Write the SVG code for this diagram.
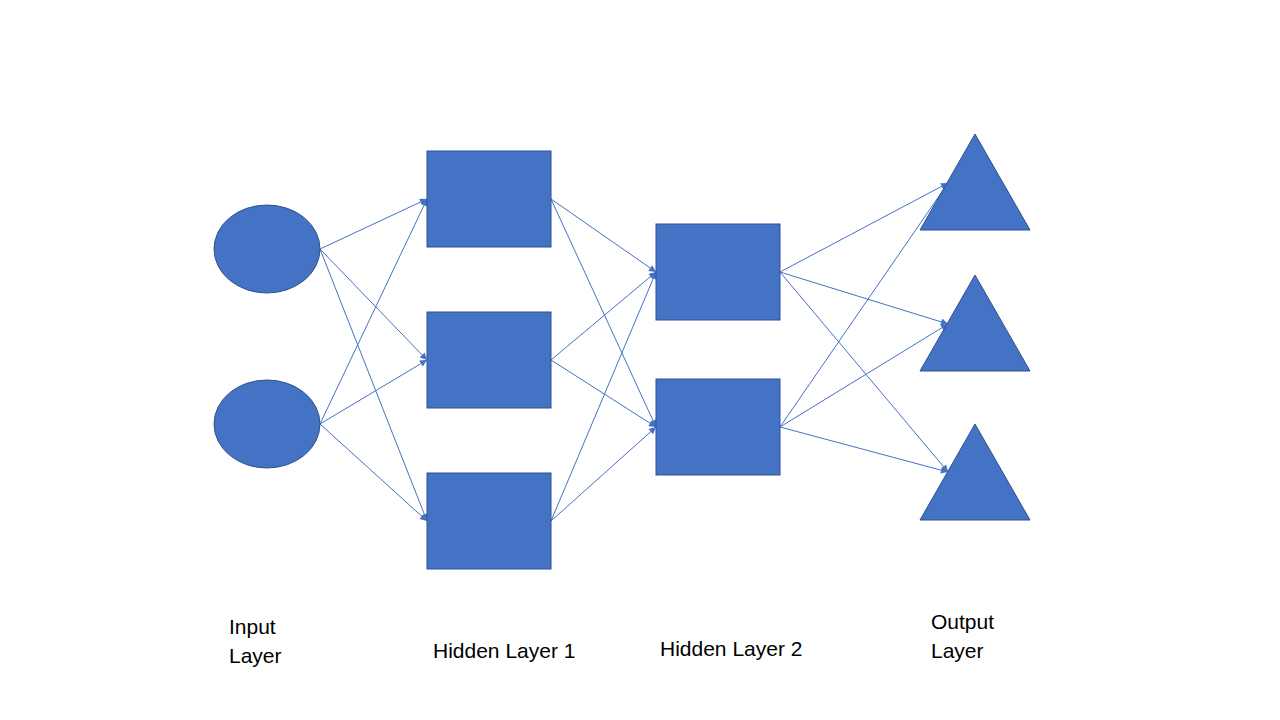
<svg xmlns="http://www.w3.org/2000/svg" width="1280" height="720" viewBox="0 0 1280 720">
<style>
.node{fill:#4472C4;stroke:#2F528F;stroke-width:1}
.edge{stroke:#4472C4;stroke-width:1;fill:none;marker-end:url(#ah)}
.lbl{font-family:"Liberation Sans",Arial,sans-serif;font-size:21px;fill:#000}
</style>
<defs>
<marker id="ah" viewBox="0 0 10 10" refX="10" refY="5" markerWidth="9" markerHeight="7" markerUnits="userSpaceOnUse" orient="auto">
<path d="M0,0 L10,5 L0,10 Z" fill="#4472C4"/>
</marker>
</defs>
<rect width="1280" height="720" fill="#fff"/>
<g id="connectors">
<line class="edge" x1="320" y1="249" x2="427" y2="199"/>
<line class="edge" x1="320" y1="249" x2="427" y2="360"/>
<line class="edge" x1="320" y1="249" x2="427" y2="521"/>
<line class="edge" x1="320" y1="424" x2="427" y2="199"/>
<line class="edge" x1="320" y1="424" x2="427" y2="360"/>
<line class="edge" x1="320" y1="424" x2="427" y2="521"/>
<line class="edge" x1="551" y1="199" x2="656" y2="272"/>
<line class="edge" x1="551" y1="199" x2="656" y2="427"/>
<line class="edge" x1="551" y1="360" x2="656" y2="272"/>
<line class="edge" x1="551" y1="360" x2="656" y2="427"/>
<line class="edge" x1="551" y1="521" x2="656" y2="272"/>
<line class="edge" x1="551" y1="521" x2="656" y2="427"/>
<line class="edge" x1="780" y1="272" x2="948" y2="183"/>
<line class="edge" x1="780" y1="272" x2="948" y2="324"/>
<line class="edge" x1="780" y1="272" x2="948" y2="472"/>
<line class="edge" x1="780" y1="427" x2="948" y2="183"/>
<line class="edge" x1="780" y1="427" x2="948" y2="324"/>
<line class="edge" x1="780" y1="427" x2="948" y2="472"/>
</g>
<g id="in1"><ellipse class="node" cx="267" cy="249" rx="53" ry="44"/></g>
<g id="in2"><ellipse class="node" cx="267" cy="424" rx="53" ry="44"/></g>
<g id="h1a"><rect class="node" x="427" y="151" width="124" height="96"/></g>
<g id="h1b"><rect class="node" x="427" y="312" width="124" height="96"/></g>
<g id="h1c"><rect class="node" x="427" y="473" width="124" height="96"/></g>
<g id="h2a"><rect class="node" x="656" y="224" width="124" height="96"/></g>
<g id="h2b"><rect class="node" x="656" y="379" width="124" height="96"/></g>
<g id="out1"><polygon class="node" points="975,134 1030,230 920,230"/></g>
<g id="out2"><polygon class="node" points="975,275 1030,371 920,371"/></g>
<g id="out3"><polygon class="node" points="975,424 1030,520 920,520"/></g>
<g id="labels">
<text class="lbl" x="229" y="634">Input</text>
<text class="lbl" x="229" y="663">Layer</text>
<text class="lbl" x="433" y="658">Hidden Layer 1</text>
<text class="lbl" x="660" y="656">Hidden Layer 2</text>
<text class="lbl" x="931" y="629">Output</text>
<text class="lbl" x="931" y="658">Layer</text>
</g>
</svg>
